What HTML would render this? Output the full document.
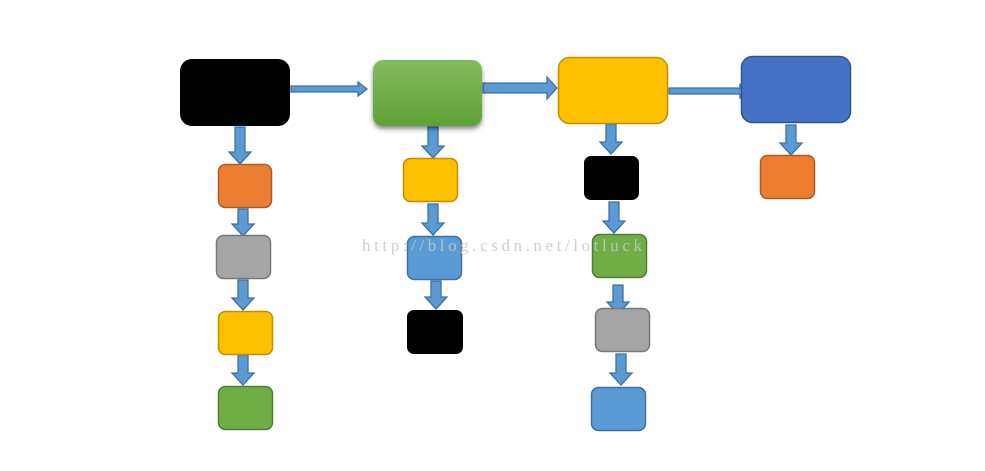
<!DOCTYPE html>
<html><head><meta charset="utf-8"><style>html,body{margin:0;padding:0;background:#fff}svg{display:block}</style></head>
<body>
<svg width="985" height="471" viewBox="0 0 985 471" xmlns="http://www.w3.org/2000/svg">
<defs>
<linearGradient id="g" x1="0" y1="0" x2="0" y2="1"><stop offset="0" stop-color="#84bb60"/><stop offset="1" stop-color="#5fa136"/></linearGradient>
<filter id="sh" x="-20%" y="-20%" width="140%" height="150%"><feDropShadow dx="0" dy="3" stdDeviation="2.5" flood-color="#000" flood-opacity="0.45"/></filter>
</defs>
<g stroke="#41719c" stroke-width="1.3" fill="#5b9bd5">
<polygon points="291,86 358,86 358,82 367,89 358,96 358,92 291,92"/>
<polygon points="483,83 547,83 547,77 557,88 547,99 547,93 483,93"/>
<polygon points="669,88 740,88 740,84 748,91 740,98 740,94 669,94"/>
<polygon points="235,127 245,127 245,152 251,152 240,164 229,152 235,152"/>
<polygon points="238,209 248,209 248,224 254,224 243,236 232,224 238,224"/>
<polygon points="238,280 248,280 248,298 254,298 243,310 232,298 238,298"/>
<polygon points="238,355 248,355 248,373 254,373 243,385 232,373 238,373"/>
<polygon points="428,127 438,127 438,146 444,146 433,158 422,146 428,146"/>
<polygon points="428,204 438,204 438,223 444,223 433,235 422,223 428,223"/>
<polygon points="431,281 441,281 441,297 447,297 436,309 425,297 431,297"/>
<polygon points="606,124 616,124 616,142 622,142 611,154 600,142 606,142"/>
<polygon points="609,202 619,202 619,221 625,221 614,233 603,221 609,221"/>
<polygon points="613,285 623,285 623,302 629,302 618,314 607,302 613,302"/>
<polygon points="616,354 626,354 626,373 632,373 621,385 610,373 616,373"/>
<polygon points="786,125 796,125 796,143 802,143 791,155 780,143 786,143"/>
</g>
<rect x="180" y="59" width="110" height="67" rx="12" fill="#000"/>
<rect x="373" y="60" width="109" height="66" rx="10" fill="url(#g)" filter="url(#sh)"/>
<rect x="558.5" y="57.5" width="109" height="66" rx="11" fill="#ffc000" stroke="#bf9000" stroke-width="1.5"/>
<rect x="741.5" y="56.5" width="109" height="66" rx="11" fill="#4472c4" stroke="#2f528f" stroke-width="1.5"/>
<rect x="218.5" y="164.5" width="53" height="43" rx="7" fill="#ed7d31" stroke="#ae5a21" stroke-width="1.5"/>
<rect x="216.5" y="235.5" width="54" height="43" rx="7" fill="#a5a5a5" stroke="#787878" stroke-width="1.5"/>
<rect x="218.5" y="311.5" width="54" height="43" rx="7" fill="#ffc000" stroke="#bf9000" stroke-width="1.5"/>
<rect x="218.5" y="386.5" width="54" height="43" rx="7" fill="#70ad47" stroke="#507e32" stroke-width="1.5"/>
<rect x="403.5" y="158.5" width="54" height="43" rx="7" fill="#ffc000" stroke="#bf9000" stroke-width="1.5"/>
<rect x="407.5" y="236.5" width="54" height="43" rx="7" fill="#5b9bd5" stroke="#41719c" stroke-width="1.5"/>
<rect x="407" y="310" width="56" height="44" rx="7" fill="#000"/>
<rect x="584" y="156" width="55" height="44" rx="7" fill="#000"/>
<rect x="592.5" y="234.5" width="54" height="43" rx="7" fill="#70ad47" stroke="#507e32" stroke-width="1.5"/>
<rect x="595.5" y="308.5" width="54" height="43" rx="7" fill="#a5a5a5" stroke="#787878" stroke-width="1.5"/>
<rect x="591.5" y="387.5" width="54" height="43" rx="7" fill="#5b9bd5" stroke="#41719c" stroke-width="1.5"/>
<rect x="760.5" y="155.5" width="54" height="43" rx="7" fill="#ed7d31" stroke="#ae5a21" stroke-width="1.5"/>
<text x="362" y="251" font-family="Liberation Serif, serif" font-size="17" fill="#c8c8c8" fill-opacity="0.85" textLength="280">http://blog.csdn.net/lotluck</text>
</svg>
</body></html>
